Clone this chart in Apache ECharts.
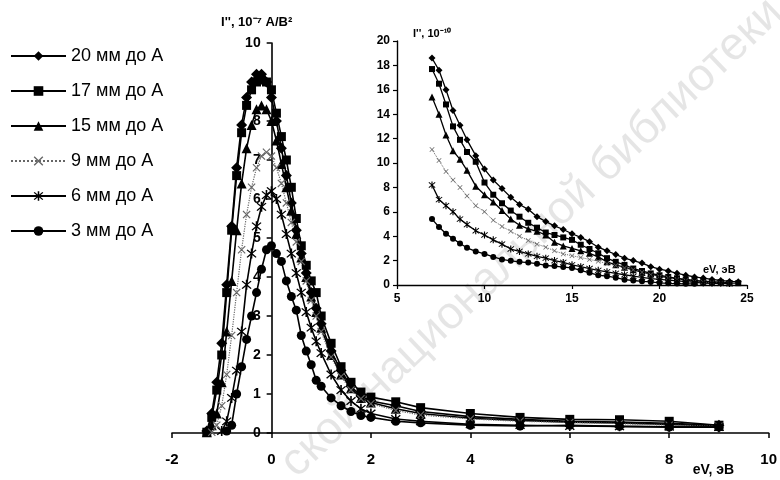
<!DOCTYPE html>
<html>
<head>
<meta charset="utf-8">
<script src="https://cdn.jsdelivr.net/npm/echarts@6/dist/echarts.min.js"></script>
<style>html,body{margin:0;padding:0;background:#fff;}#c{width:780px;height:480px;}</style>
</head>
<body>
<div id="c"></div>
<script>
// ---------- data ----------
var seriesNames = ['20 мм до А', '17 мм до А', '15 мм до А', '9 мм до А', '6 мм до А', '3 мм до А'];

// main chart x values (eV, эВ)
var mainX = [-1.3,-1.2,-1.1,-1.0,-0.9,-0.8,-0.7,-0.6,-0.5,-0.4,-0.3,-0.2,-0.1,0,0.1,0.2,0.3,0.4,0.5,0.6,0.7,0.8,0.9,1.0,
             1.2,1.4,1.6,1.8,2.0,2.5,3.0,4.0,5.0,6.0,7.0,8.0,9.0];
var main20 = [0.05,0.5,1.3,2.3,3.8,5.3,6.8,7.9,8.6,9.0,9.2,9.2,9.0,8.6,8.0,7.3,6.6,5.9,5.2,4.6,4.1,3.6,3.2,2.8,
              2.1,1.6,1.2,0.95,0.82,0.7,0.55,0.42,0.35,0.3,0.28,0.25,0.2];
var main17 = [0.02,0.4,1.1,2.0,3.6,5.2,6.6,7.7,8.4,8.8,9.0,9.05,9.0,8.8,8.2,7.6,7.0,6.3,5.5,4.8,4.3,3.9,3.6,3.0,
              2.3,1.7,1.3,1.05,0.92,0.8,0.65,0.5,0.4,0.35,0.34,0.3,0.2];
var main15 = [0.02,0.2,0.5,1.3,2.6,3.9,5.2,6.4,7.3,7.9,8.3,8.4,8.3,8.0,7.5,6.9,6.3,5.7,5.1,4.5,4.0,3.5,3.1,2.7,
              2.0,1.5,1.15,0.9,0.78,0.62,0.5,0.38,0.32,0.28,0.26,0.22,0.18];
var main9  = [null,0.02,0.2,0.7,1.5,2.5,3.6,4.7,5.6,6.3,6.8,7.1,7.2,7.1,6.8,6.4,5.9,5.4,4.9,4.4,3.9,3.4,3.0,2.6,
              1.95,1.45,1.1,0.88,0.75,0.58,0.46,0.36,0.3,0.27,0.24,0.2,0.17];
var main6  = [null,null,null,0.05,0.3,0.9,1.6,2.6,3.8,4.6,5.3,5.8,6.1,6.2,6.0,5.6,5.1,4.6,4.1,3.6,3.1,2.7,2.35,2.05,
              1.5,1.1,0.82,0.62,0.5,0.36,0.3,0.22,0.2,0.18,0.17,0.16,0.15];
var main3  = [null,null,null,null,0.05,0.2,1.0,1.7,2.4,3.0,3.6,4.2,4.7,4.8,4.6,4.4,3.9,3.5,3.15,2.5,2.1,1.75,1.35,1.2,
              0.9,0.7,0.55,0.45,0.4,0.3,0.26,0.2,0.18,0.2,0.17,0.15,0.15];

// inset x values (eV, эВ)
var insetX = [7,7.4,7.8,8.2,8.6,9,9.5,10,10.5,11,11.5,12,12.5,13,13.5,14,14.5,15,15.5,16,16.5,17,17.5,18,18.5,19,19.5,20,20.5,21,21.5,22,22.5,23,23.5,24,24.5];
var inset20 = [18.6,17.6,16.0,14.3,13.1,11.9,10.6,9.5,8.6,7.9,7.2,6.6,6.2,5.6,5.2,4.85,4.55,4.2,3.9,3.55,3.1,2.8,2.5,2.2,2.0,1.8,1.5,1.3,1.15,0.96,0.8,0.66,0.57,0.46,0.37,0.29,0.27];
var inset17 = [17.7,16.5,14.8,13.0,11.9,10.9,10.1,8.4,7.4,6.7,6.1,5.6,5.1,4.7,4.3,4.1,3.9,3.7,3.3,2.95,2.6,2.2,1.9,1.65,1.35,1.15,0.95,0.8,0.66,0.55,0.45,0.38,0.31,0.27,0.23,0.16,0.15];
var inset15 = [15.4,14.0,12.3,11.0,10.3,9.4,8.1,7.4,6.8,6.1,5.4,4.9,4.6,4.4,4.1,3.5,3.2,3.0,2.8,2.6,2.3,1.9,1.65,1.45,1.25,1.05,0.9,0.7,0.6,0.5,0.42,0.32,0.22,0.2,0.2,0.18,null];
var inset9  = [11.1,10.2,9.3,8.6,8.0,7.3,6.5,6.0,5.3,4.8,4.4,4.0,3.65,3.35,3.1,2.8,2.55,2.4,2.25,2.1,1.95,1.75,1.6,1.4,1.25,1.05,0.85,0.68,0.58,0.46,0.35,0.27,0.22,0.18,0.15,0.12,null];
var inset6  = [8.2,7.0,6.5,6.0,5.4,4.95,4.45,4.1,3.7,3.35,2.95,2.75,2.55,2.35,2.2,2.0,1.85,1.65,1.5,1.35,1.2,1.08,0.95,0.84,0.72,0.62,0.53,0.46,0.4,0.33,0.27,0.21,0.16,0.14,0.14,0.12,null];
var inset3  = [5.4,4.75,4.2,3.8,3.4,3.05,2.75,2.55,2.3,2.1,1.98,1.9,1.84,1.75,1.6,1.55,1.47,1.4,1.2,1.0,0.8,0.72,0.6,0.44,0.37,0.3,0.25,0.18,0.14,0.12,0.1,0.1,null,null,null,null,null];

var mainTicksX = {min: -2, max: 10, interval: 2};
var mainTicksY = {min: 0, max: 10, interval: 1};
var insetTicksX = {min: 5, max: 25, interval: 5};
var insetTicksY = {min: 0, max: 20, interval: 2};

// ---------- styles ----------
var xPath = 'path://M1,0 L5,4 L9,0 L10,1 L6,5 L10,9 L9,10 L5,6 L1,10 L0,9 L4,5 L0,1 Z';
var starPath = 'path://M1,0 L5,4 L9,0 L10,1 L6,5 L10,9 L9,10 L5,6 L1,10 L0,9 L4,5 L0,1 Z M4.2,-1 L5.8,-1 L5.8,11 L4.2,11 Z';
var styles = [
  {symbol: 'diamond',  size: 11, color: '#000', line: 'solid'},
  {symbol: 'rect',     size: 9,  color: '#000', line: 'solid'},
  {symbol: 'triangle', size: 10, color: '#000', line: 'solid'},
  {symbol: xPath,      size: 8,  color: '#666', line: 'dotted'},
  {symbol: starPath,   size: 10, color: '#000', line: 'solid'},
  {symbol: 'circle',   size: 9,  color: '#000', line: 'solid'}
];
var mainSets = [main20, main17, main15, main9, main6, main3];
var insetSets = [inset20, inset17, inset15, inset9, inset6, inset3];

function pairs(xs, ys) {
  return xs.map(function (x, i) { return [x, ys[i] == null ? null : ys[i]]; });
}

var series = [];
mainSets.forEach(function (ys, k) {
  var s = styles[k];
  series.push({
    name: seriesNames[k], type: 'line', xAxisIndex: 0, yAxisIndex: 0,
    data: pairs(mainX, ys), symbol: s.symbol, symbolSize: s.size,
    showAllSymbol: true, connectNulls: false, animation: false,
    lineStyle: {color: s.color, width: k === 3 ? 1.2 : 1.6, type: s.line},
    itemStyle: {color: s.color}
  });
});
insetSets.forEach(function (ys, k) {
  var s = styles[k];
  series.push({
    name: seriesNames[k], type: 'line', xAxisIndex: 1, yAxisIndex: 1,
    data: pairs(insetX, ys), symbol: s.symbol, symbolSize: Math.round(s.size * 0.65),
    showAllSymbol: true, animation: false,
    lineStyle: {color: s.color, width: k === 3 ? 1 : 1.3, type: s.line},
    itemStyle: {color: s.color}
  });
});

var axisFont = {fontFamily: 'Liberation Sans, Arial, sans-serif', fontWeight: 'bold', color: '#000'};

// main grid geometry: y axis drawn at x = 0
var mainGrid = {left: 172, right: 10, top: 43, bottom: 47};
var mainPlotWidth = 780 - mainGrid.left - mainGrid.right;
var yAxisShift = -mainPlotWidth * (0 - mainTicksX.min) / (mainTicksX.max - mainTicksX.min);

var chart = echarts.init(document.getElementById('c'), null, {renderer: 'canvas'});
chart.setOption({
  backgroundColor: '#fff',
  animation: false,
  graphic: [{
    type: 'text', z: -10, silent: true,
    x: 532, y: 238, rotation: 0.76,
    style: {
      text: 'ской национальной библиотеки',
      font: '46px "Liberation Sans", Arial, sans-serif',
      fill: 'rgba(0,0,0,0.10)', align: 'center', verticalAlign: 'middle'
    }
  }],
  legend: {
    orient: 'vertical', left: 5, top: 42, itemGap: 17,
    itemWidth: 55, itemHeight: 12,
    data: seriesNames,
    textStyle: {fontFamily: 'Liberation Sans, Arial, sans-serif', fontSize: 18, color: '#000'}
  },
  grid: [
    mainGrid,
    {left: 397, right: 33, top: 41, bottom: 195}
  ],
  xAxis: [
    {
      type: 'value', gridIndex: 0, min: mainTicksX.min, max: mainTicksX.max, interval: mainTicksX.interval,
      splitLine: {show: false},
      axisLine: {lineStyle: {color: '#000', width: 1.6}},
      axisTick: {length: 5, lineStyle: {color: '#000', width: 1.5}},
      axisLabel: Object.assign({fontSize: 15, margin: 19}, axisFont),
      name: 'eV, эВ', nameLocation: 'end', nameGap: -76,
      nameTextStyle: Object.assign({fontSize: 14, align: 'left', verticalAlign: 'top', padding: [30, 0, 0, 0]}, axisFont)
    },
    {
      type: 'value', gridIndex: 1, min: insetTicksX.min, max: insetTicksX.max, interval: insetTicksX.interval,
      splitLine: {show: false},
      axisLine: {lineStyle: {color: '#000', width: 1.4}},
      axisTick: {length: 4, lineStyle: {color: '#000', width: 1.2}},
      axisLabel: Object.assign({fontSize: 12, margin: 8}, axisFont),
      name: 'eV, эВ', nameLocation: 'end', nameGap: -44,
      nameTextStyle: Object.assign({fontSize: 11, align: 'left', verticalAlign: 'bottom', padding: [0, 0, 10, 0]}, axisFont)
    }
  ],
  yAxis: [
    {
      type: 'value', gridIndex: 0, min: mainTicksY.min, max: mainTicksY.max, interval: mainTicksY.interval,
      position: 'left', offset: yAxisShift,
      splitLine: {show: false},
      axisLine: {onZero: false, lineStyle: {color: '#000', width: 1.6}},
      axisTick: {length: 5, lineStyle: {color: '#000', width: 1.5}},
      axisLabel: Object.assign({fontSize: 14, margin: 11}, axisFont),
      name: "I'', 10⁻⁷ А/В²", nameLocation: 'end', nameGap: 14,
      nameTextStyle: Object.assign({fontSize: 13, align: 'center', padding: [0, 30, 0, 0]}, axisFont)
    },
    {
      type: 'value', gridIndex: 1, min: insetTicksY.min, max: insetTicksY.max, interval: insetTicksY.interval,
      splitLine: {show: false},
      axisLine: {lineStyle: {color: '#000', width: 1.4}},
      axisTick: {length: 4, lineStyle: {color: '#000', width: 1.2}},
      axisLabel: Object.assign({fontSize: 12, margin: 7}, axisFont),
      name: "I'', 10⁻¹⁰", nameLocation: 'end', nameGap: 2,
      nameTextStyle: Object.assign({fontSize: 11, align: 'left', padding: [0, 0, 0, 16]}, axisFont)
    }
  ],
  series: series
});
</script>
</body>
</html>
